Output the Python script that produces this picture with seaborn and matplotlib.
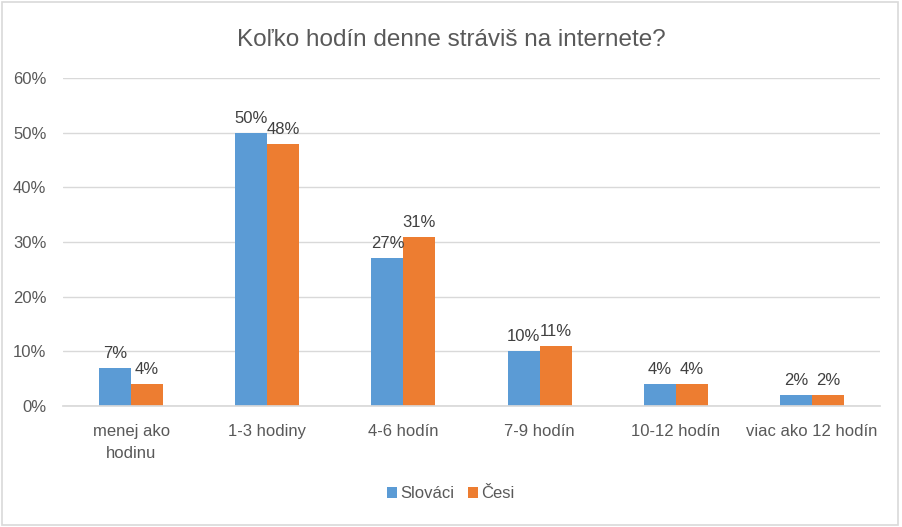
import matplotlib
matplotlib.use("Agg")
import matplotlib.pyplot as plt
import seaborn as sns
import pandas as pd
from matplotlib.patches import Rectangle
from matplotlib.ticker import FuncFormatter

categories = ["menej ako\nhodinu", "1-3 hodiny", "4-6 hodín", "7-9 hodín", "10-12 hodín", "viac ako 12 hodín"]
slovaci = [7, 50, 27, 10, 4, 2]
cesi = [4, 48, 31, 11, 4, 2]
series_names = ["Slováci", "Česi"]
title = "Koľko hodín denne stráviš na internete?"

df = pd.DataFrame({
    "cat": categories * 2,
    "val": slovaci + cesi,
    "series": [series_names[0]] * len(categories) + [series_names[1]] * len(categories),
})

sns.set_theme(style="white")
plt.rcParams['font.family'] = ['Liberation Sans Narrow', 'Liberation Sans', 'DejaVu Sans']

fig = plt.figure(figsize=(9.02, 5.27), dpi=100)
ax = fig.add_axes([63/902, 1-406/527, (880-63)/902, (406-78)/527])

txt = "#595959"
sns.barplot(data=df, x="cat", y="val", hue="series", order=categories,
            hue_order=series_names, palette=["#5B9BD5", "#ED7D31"],
            width=0.47, ax=ax, legend=True, saturation=1, linewidth=0, edgecolor="none")

ax.set_ylim(0, 60)
ax.set_xlim(-0.5, 5.5)
ax.set_yticks(range(0, 61, 10))
ax.yaxis.set_major_formatter(FuncFormatter(lambda v, p: f"{int(v)}%"))
ax.grid(axis="y", color="#D9D9D9", linewidth=1)
ax.set_axisbelow(True)
for s in ["top", "right", "left"]:
    ax.spines[s].set_visible(False)
ax.spines["bottom"].set_color("#D9D9D9")
ax.tick_params(axis="both", length=0, labelsize=12, labelcolor=txt)
ax.tick_params(axis="x", pad=13)
ax.tick_params(axis="y", pad=12)
for lbl in ax.get_xticklabels():
    lbl.set_linespacing(1.55)
ax.set_xlabel("")
ax.set_ylabel("")

for cont in ax.containers:
    ax.bar_label(cont, labels=[f"{int(v)}%" for v in cont.datavalues],
                 padding=5, fontsize=12, color="#404040")

handles, labels = ax.get_legend_handles_labels()
ax.get_legend().remove()
fig.legend(handles, labels, loc="center", bbox_to_anchor=(0.5, 1-494/527), ncol=2,
           frameon=False, fontsize=12, labelcolor=txt, handlelength=0.6, handleheight=0.6,
           handletextpad=0.2, columnspacing=0.8)

fig.text(0.5, 1-40/527, title, ha="center", va="center", fontsize=17.5, color=txt)

fig.patches.append(Rectangle((0.002, 0.003), 0.994, 0.994, transform=fig.transFigure,
                             fill=False, edgecolor="#D9D9D9", linewidth=1.2))

fig.savefig("out.png", dpi=100)
